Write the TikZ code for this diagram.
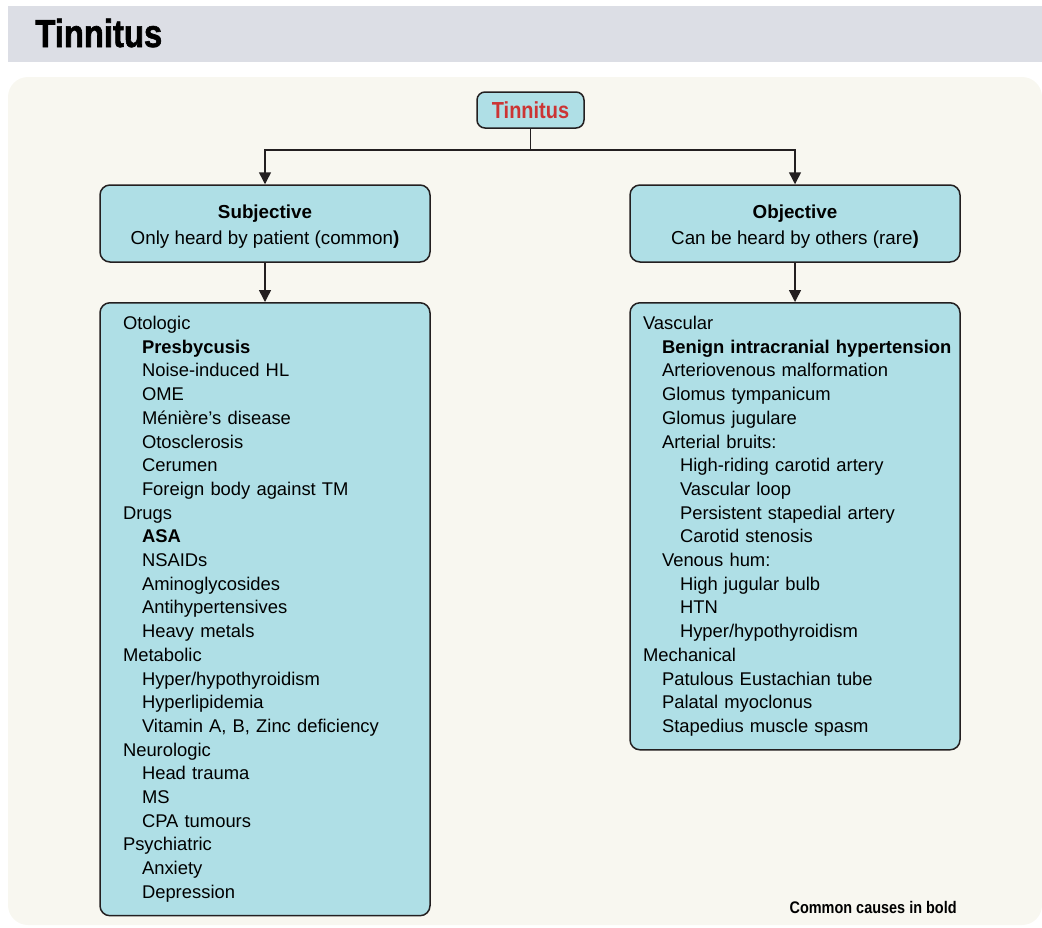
\documentclass[tikz,border=0pt]{standalone}
\usepackage{fontspec}
\setmainfont{Liberation Sans}
\newfontfamily\condfont{Liberation Sans}[FakeStretch=0.86]
\newfontfamily\heavyfont{Liberation Sans}[FakeStretch=0.84, FakeBold=1.6]
\usetikzlibrary{arrows.meta, positioning}
\definecolor{barGray}{RGB}{220,222,229}
\definecolor{panelCream}{RGB}{248,247,240}
\definecolor{boxBlue}{RGB}{175,223,230}
\definecolor{lineDark}{RGB}{35,31,32}
\definecolor{titleRed}{RGB}{204,52,52}
\newcommand{\ione}{\hspace*{9.5pt}}
\newcommand{\itwo}{\hspace*{18.5pt}}

\begin{document}
\begin{tikzpicture}[x=0.5pt, y=-0.5pt,
  box/.style={draw=lineDark, line width=0.75pt, fill=boxBlue, rounded corners=5pt},
  headbox/.style={box, minimum width=165pt, minimum height=38.5pt, align=center, font=\fontsize{9.4}{13}\selectfont},
  listbox/.style={box, text width=142pt, inner xsep=11.5pt, inner ysep=6.75pt, align=left, font=\fontsize{9.2}{11.85}\selectfont},
  arr/.style={draw=lineDark, line width=0.75pt, -{Triangle[width=6pt, length=6pt]}}
]
  \useasboundingbox (0,0) rectangle (1042,927);
  % heading bar and panel
  \fill[barGray] (8,6) rectangle (1042,62);
  \fill[panelCream, rounded corners=10pt] (8,77) rectangle (1042,925);
  \node[anchor=base west, inner sep=0, font=\heavyfont\bfseries\fontsize{19.5}{20}\selectfont] (title) at (35,47) {Tinnitus};

  \node[box, rounded corners=4pt, minimum width=53.5pt, minimum height=18pt, inner sep=0,
        font=\condfont\bfseries\fontsize{11.6}{12}\selectfont, text=titleRed] (root) at (530.5,110) {Tinnitus};

  \node[headbox] (subj) at (265,223.5) {\rule{0pt}{10pt}\textbf{Subjective}\\Only heard by patient (common\textbf{)}};
  \node[headbox] (obj) at (795,223.5) {\rule{0pt}{10pt}\textbf{Objective}\\Can be heard by others (rare\textbf{)}};

  \node[listbox, anchor=north] (causesL) at (265,302) {
    Otologic\\
    \ione\textbf{Presbycusis}\\
    \ione Noise-induced HL\\
    \ione OME\\
    \ione Ménière’s disease\\
    \ione Otosclerosis\\
    \ione Cerumen\\
    \ione Foreign body against TM\\
    Drugs\\
    \ione\textbf{ASA}\\
    \ione NSAIDs\\
    \ione Aminoglycosides\\
    \ione Antihypertensives\\
    \ione Heavy metals\\
    Metabolic\\
    \ione Hyper/hypothyroidism\\
    \ione Hyperlipidemia\\
    \ione Vitamin A, B, Zinc deficiency\\
    Neurologic\\
    \ione Head trauma\\
    \ione MS\\
    \ione CPA tumours\\
    Psychiatric\\
    \ione Anxiety\\
    \ione Depression
  };

  \node[listbox, text width=152pt, inner xsep=6.5pt, anchor=north] (causesR) at (795,302) {
    Vascular\\
    \ione\mbox{\textbf{Benign intracranial hypertension}}\\
    \ione Arteriovenous malformation\\
    \ione Glomus tympanicum\\
    \ione Glomus jugulare\\
    \ione Arterial bruits:\\
    \itwo High-riding carotid artery\\
    \itwo Vascular loop\\
    \itwo Persistent stapedial artery\\
    \itwo Carotid stenosis\\
    \ione Venous hum:\\
    \itwo High jugular bulb\\
    \itwo HTN\\
    \itwo Hyper/hypothyroidism\\
    Mechanical\\
    \ione Patulous Eustachian tube\\
    \ione Palatal myoclonus\\
    \ione Stapedius muscle spasm
  };

  % connectors
  \draw[arr] (root.south) -- ++(0,21) -| (subj.north);
  \draw[arr] (root.south) -- ++(0,21) -| (obj.north);
  \draw[arr] (subj) -- (causesL);
  \draw[arr] (obj) -- (causesR);

  \node[anchor=base east, inner sep=0, font=\condfont\bfseries\fontsize{8.4}{9}\selectfont] (note) at (957,913) {Common causes in bold};
\end{tikzpicture}
\end{document}
